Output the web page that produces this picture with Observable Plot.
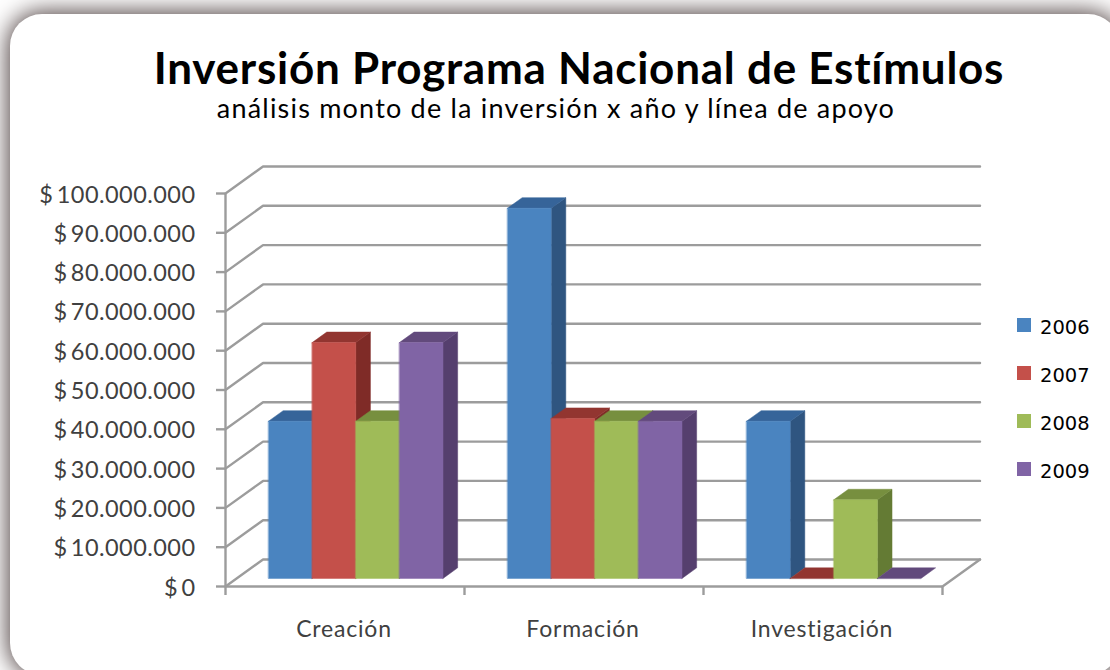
<!DOCTYPE html>
<html lang="es">
<head>
<meta charset="utf-8">
<script src="https://cdn.jsdelivr.net/npm/d3@7"></script>
<script src="https://cdn.jsdelivr.net/npm/@observablehq/plot@0.6"></script>
<style>
  html, body { margin: 0; padding: 0; background: #fff; }
  #page { position: relative; width: 1110px; height: 670px; overflow: hidden; background: #fff; }
  #card { position: absolute; left: 10px; top: 14px; width: 1110px; height: 661px; background: #fff;
          border-radius: 32px; box-shadow: 0 0 24px 2px #4a3c3c; }
  #chart { position: absolute; left: 0; top: 0; }
  #chart svg { display: block; background: transparent; }
  .t { position: absolute; white-space: nowrap; color: #000; transform: translateX(-50%); }
  #title { left: 579px; top: 39px; font: 700 44px/56px Lato, sans-serif; letter-spacing: 0.75px; }
  #subtitle { left: 556px; top: 90px; font: 400 27px/36px Lato, sans-serif; letter-spacing: 1.2px; }
  #legend div { position: absolute; left: 1017px; width: 14px; height: 14px; }
  #legend span { position: absolute; left: 1040px; font: 400 19.5px/24px "DejaVu Sans", sans-serif; color: #000; }
</style>
</head>
<body>
<div id="page">
  <div id="card"></div>
  <div id="chart"></div>
  <div class="t" id="title">Inversión Programa Nacional de Estímulos</div>
  <div class="t" id="subtitle">análisis monto de la inversión x año y línea de apoyo</div>
  <div id="legend"></div>
</div>
<script>
const categories = ["Creación", "Formación", "Investigación"];
const years = ["2006", "2007", "2008", "2009"];
const values2006 = [40000000, 94200000, 40000000];
const values2007 = [60000000, 40700000, 0];
const values2008 = [40000000, 40000000, 20000000];
const values2009 = [60000000, 40000000, 0];
const series = [values2006, values2007, values2008, values2009];
const yTicks = d3.range(0, 100000001, 10000000);

const frontColors = ["#4a84c0", "#c4504a", "#9fbb58", "#8064a5"];
const topColors = ["#366499", "#923530", "#778f3f", "#624a7c"];
const sideColors = ["#2f5580", "#7f2b27", "#647b34", "#553f6e"];
const gridColor = "#9c9c9c";

// Oblique projection of the 3-D chart box into the x/y scales' own units.
const depthX = 0.157;      // category units per full depth
const depthY = 6870000;    // pesos per full depth
const barWidth = 0.1825;
const barGap = 0.133;
const barFront = 0.3;
const barBack = 0.69;
const at = (x, v, d) => ({x: x + d * depthX, y: v + d * depthY});

const faces = [];
function face(id, color, pts) { for (const p of pts) faces.push({id, color, ...p}); }
categories.forEach((c, i) => {
  series.forEach((s, k) => {
    const x0 = i + barGap + k * barWidth, x1 = x0 + barWidth, v = s[i];
    if (v > 0) face(`${c}${k}s`, sideColors[k], [at(x1, 0, barFront), at(x1, 0, barBack), at(x1, v, barBack), at(x1, v, barFront)]);
    face(`${c}${k}t`, topColors[k], [at(x0, v, barFront), at(x0, v, barBack), at(x1, v, barBack), at(x1, v, barFront)]);
    if (v > 0) face(`${c}${k}f`, frontColors[k], [at(x0, 0, barFront), at(x1, 0, barFront), at(x1, v, barFront), at(x0, v, barFront)]);
  });
});

const grid = [];
yTicks.forEach(v => {
  grid.push({v, ...at(0, v, 0)}, {v, ...at(0, v, 1)}, {v, ...at(categories.length, v, 1)});
});
const floorEdge = [at(categories.length, 0, 0), at(categories.length, 0, 1)];

const fmt = v => "$\u2009" + d3.format(",")(v).replace(/,/g, ".");

const plot = Plot.plot({
  width: 1110,
  height: 670,
  marginLeft: 225,
  marginRight: 168,
  marginTop: 193,
  marginBottom: 84,
  style: {background: "transparent", fontFamily: "Lato, sans-serif", overflow: "visible"},
  x: {domain: [0, categories.length], range: [225, 942]},
  y: {domain: [0, 100000000], range: [586, 193]},
  color: {type: "identity"},
  marks: [
    Plot.line(grid, {x: "x", y: "y", z: "v", stroke: gridColor, strokeWidth: 2.4}),
    Plot.line(floorEdge, {x: "x", y: "y", stroke: gridColor, strokeWidth: 2.4}),
    Plot.ruleX([0], {y1: 0, y2: 100000000, stroke: gridColor, strokeWidth: 2.4}),
    Plot.ruleY([0], {x1: 0, x2: categories.length, stroke: gridColor, strokeWidth: 2.4}),
    Plot.line(faces, {x: "x", y: "y", z: "id", fill: "color", stroke: "color", strokeWidth: 0.5, curve: "linear-closed"}),
    Plot.axisY({ticks: yTicks, tickFormat: fmt, tickSize: 9, tickPadding: 21, fontSize: 23.5, fill: "#404040", stroke: gridColor, strokeWidth: 2.4, label: null}),
    Plot.axisX({ticks: d3.range(categories.length + 1), tickFormat: () => "", tickSize: 9, stroke: gridColor, strokeWidth: 2.4, label: null}),
    Plot.axisX({ticks: categories.map((c, i) => i + 0.5), tickFormat: v => categories[Math.floor(v)], tickSize: 0, tickPadding: 34, fontSize: 23, fill: "#404040", label: null})
  ]
});
document.getElementById("chart").appendChild(plot);

// Fine text tuning of the axis labels drawn by Plot
plot.querySelectorAll('[aria-label="x-axis tick label"]').forEach(g => {
  g.style.letterSpacing = "0.8px";
  g.setAttribute("transform", (g.getAttribute("transform") || "") + " translate(-1,0)");
});
plot.querySelectorAll('[aria-label="y-axis tick label"]').forEach(g => {
  g.style.letterSpacing = "0.45px";
  g.setAttribute("transform", (g.getAttribute("transform") || "") + " translate(0,1.5)");
});

const legend = document.getElementById("legend");
years.forEach((y, k) => {
  const box = document.createElement("div");
  box.style.top = (318 + k * 48) + "px";
  box.style.background = frontColors[k];
  const label = document.createElement("span");
  label.style.top = (316 + k * 48) + "px";
  label.textContent = y;
  legend.append(box, label);
});
</script>
</body>
</html>
